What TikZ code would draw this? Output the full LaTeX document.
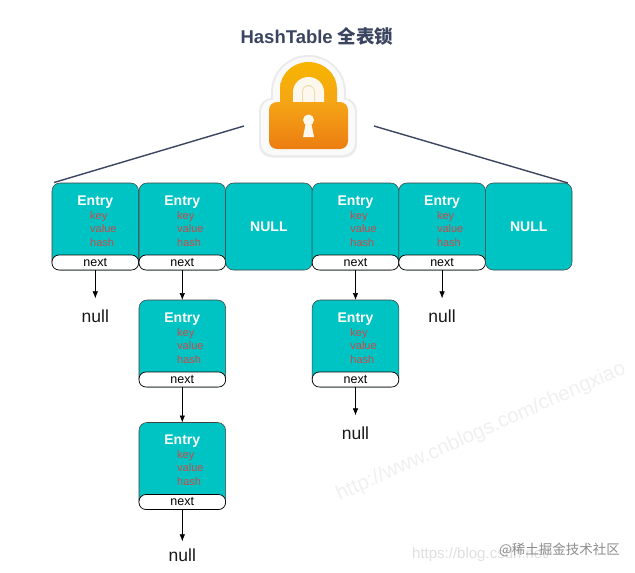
\documentclass[tikz,border=0pt]{standalone}
\usepackage{fontspec}
\setmainfont{Liberation Sans}
\newfontfamily\cjk{Noto Sans CJK SC}
\newfontfamily\cjkb{Noto Sans CJK SC Bold}
\usetikzlibrary{arrows.meta}
\definecolor{cellteal}{HTML}{00C4C4}
\definecolor{redtxt}{HTML}{C94A4A}
\definecolor{navy}{HTML}{3B4560}
\definecolor{ambertop}{HTML}{F7B500}
\definecolor{ambermid}{HTML}{F5A516}
\definecolor{amberlow}{HTML}{EC7D12}
\definecolor{holelight}{HTML}{FDF8EE}
\definecolor{holeedge}{HTML}{EFD9B0}
\tikzset{
 x=1pt,y=-1pt,
 cellbox/.style={draw=black!75,line width=.55pt,fill=cellteal,rounded corners=8pt,minimum width=86.6pt,minimum height=87pt,inner sep=0pt,outer sep=0pt},
 nextbox/.style={draw=black,line width=.7pt,fill=white,rounded corners=7pt,minimum width=86.6pt,minimum height=15pt,inner sep=0pt,outer sep=0pt,font=\fontsize{12.5}{13}\selectfont},
 entrytxt/.style={text=white,font=\fontsize{14}{15}\selectfont\bfseries,inner sep=0pt,anchor=base},
 fieldtxt/.style={text=redtxt,font=\fontsize{11}{12}\selectfont,inner sep=0pt,anchor=base west},
 nulltxt/.style={font=\fontsize{17.5}{18}\selectfont,inner sep=0pt,text=black!90},
 link/.style={draw=black,line width=.7pt,-{Latex[length=7pt,width=5.5pt]}},
 lockline/.style={draw=navy,line width=1.4pt},
 mark1/.style={text=black!6,inner sep=0pt}
}
\newcommand{\entrycell}[3]{% name, x-left, y-top
 \node[cellbox,anchor=north west] (#1) at (#2,#3) {};
 \node[nextbox,anchor=south] (#1n) at (#1.south) {next};
 \node[entrytxt] (#1e) at ([yshift=-22pt]#1.north) {Entry};
 \node[fieldtxt] (#1k) at ([xshift=38pt,yshift=-36pt]#1.north west) {key};
 \node[fieldtxt] (#1v) at ([xshift=38pt,yshift=-49pt]#1.north west) {value};
 \node[fieldtxt] (#1h) at ([xshift=38pt,yshift=-63pt]#1.north west) {hash};
}
\newcommand{\nullcell}[3]{%
 \node[cellbox,anchor=north west,text=white,font=\fontsize{14}{15}\selectfont\bfseries] (#1) at (#2,#3) {NULL};
}
\begin{document}
\begin{tikzpicture}
\useasboundingbox (0,0) rectangle (635,573);
\fill[white] (0,0) rectangle (635,573);
% watermarks
\node[mark1,rotate=24,font=\fontsize{20.5}{21}\selectfont] (wm1) at (481,432) {http://www.cnblogs.com/chengxiao};
\node[mark1,anchor=west,font=\fontsize{15}{15}\selectfont,text=black!12] (wm2) at (412,555) {https://blog.csdn.net/};
\node[anchor=east,inner sep=0pt,text=black!45,font=\cjk\fontsize{13.5}{14}\selectfont] (wm3) at (620,550) {@稀土掘金技术社区};
% title
\node[inner sep=0pt,text=navy,font=\fontsize{18.5}{19}\selectfont\bfseries] (title) at (317,36) {HashTable {\cjkb 全表锁}};
% lock
\fill[black!8,rounded corners=13pt] (259,98) rectangle (357,157.5);
\fill[black!8] (271,104) -- (271,92) arc[start angle=180,end angle=0,x radius=37.5pt,y radius=37pt] -- (346,104) -- cycle;
\fill[black!2,rounded corners=12pt] (261,99.5) rectangle (355,155);
\fill[black!2] (273,104) -- (273,92) arc[start angle=180,end angle=0,x radius=35.5pt,y radius=35pt] -- (344,104) -- cycle;
\shade[top color=ambertop,bottom color=ambermid] (280,103) -- (280,89) arc[start angle=180,end angle=0,x radius=28.5pt,y radius=27pt] -- (337,103) -- cycle;
\fill[holelight] (293,103) -- (293,92) arc[start angle=180,end angle=0,x radius=15.5pt,y radius=15pt] -- (324,103) -- cycle;
\fill[holeedge] (302,103) -- (302,92) arc[start angle=180,end angle=0,x radius=6.5pt,y radius=7pt] -- (315,103) -- cycle;
\fill[holelight] (303,103) -- (303,92) arc[start angle=180,end angle=0,x radius=5.5pt,y radius=6pt] -- (314,103) -- cycle;
\shade[rounded corners=8pt,top color=ambermid,bottom color=amberlow] (269,102) rectangle (348,149);
\fill[holelight] (308.5,120) circle[radius=5.5pt];
\fill[holelight] (306,122) -- (303,137) -- (314,137) -- (311,122) -- cycle;
% connectors to lock
\coordinate (lockL) at (244,126);
\coordinate (lockR) at (374,126);
% cells
\entrycell{a}{52}{183}
\entrycell{b}{139}{183}
\nullcell{c}{225.6}{183}
\entrycell{d}{312.2}{183}
\entrycell{e}{398.8}{183}
\nullcell{f}{485.4}{183}
\entrycell{g}{139}{300}
\entrycell{h}{139}{422.5}
\entrycell{i}{312.2}{300}
\draw[lockline] (a.north west) ++(2,-0.5) -- (lockL);
\draw[lockline] (f.north east) ++(-4,0) -- (lockR);
% null labels
\node[nulltxt] (n1) at (95.3,316) {null};
\node[nulltxt] (n2) at (442.1,316) {null};
\node[nulltxt] (n3) at (355.5,433) {null};
\node[nulltxt] (n4) at (182.3,555) {null};
% links
\draw[link] (an) -- ([yshift=11pt]n1.north);
\draw[link] (bn) -- (g);
\draw[link] (gn) -- (h);
\draw[link] (hn) -- ([yshift=7pt]n4.north);
\draw[link] (dn) -- (i);
\draw[link] (en) -- ([yshift=11pt]n2.north);
\draw[link] (in) -- ([yshift=11pt]n3.north);
\end{tikzpicture}
\end{document}
